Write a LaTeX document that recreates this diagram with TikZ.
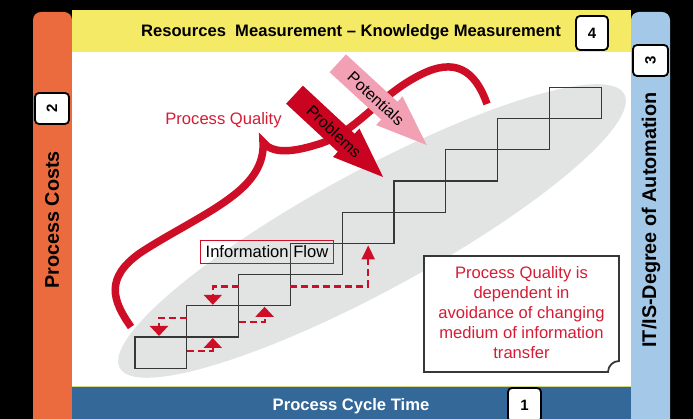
\documentclass[tikz,border=0pt]{standalone}
\usepackage{fontspec}
\setmainfont{Liberation Sans}
\usetikzlibrary{arrows.meta,calc}
\definecolor{barorange}{RGB}{236,107,62}
\definecolor{baryellow}{RGB}{245,234,101}
\definecolor{barlblue}{RGB}{164,200,232}
\definecolor{bardblue}{RGB}{52,104,152}
\definecolor{limeline}{RGB}{210,215,130}
\definecolor{ellgray}{RGB}{226,227,227}
\definecolor{stairgray}{RGB}{55,55,55}
\definecolor{qred}{RGB}{206,14,38}
\definecolor{txtred}{RGB}{214,28,52}
\definecolor{probred}{RGB}{202,4,32}
\definecolor{potpink}{RGB}{242,160,180}
\begin{document}
\begin{tikzpicture}[x=1pt,y=-1pt,
  numbox/.style={draw=black, fill=white, line width=1.8pt, rounded corners=4pt, inner sep=0pt, font=\fontsize{15}{18}\selectfont\bfseries},
  stair/.style={draw=stairgray, line width=1.3pt, minimum width=51.8pt, minimum height=31.2pt, inner sep=0pt, outer sep=0pt},
  flow/.style={draw=qred, line width=2.2pt, dash pattern=on 7pt off 4pt, -{Triangle[width=18pt,length=10pt]}},
  bigflow/.style={draw=qred, line width=2.2pt, dash pattern=on 7pt off 4pt, -{Triangle[width=13pt,length=14pt]}},
  qline/.style={draw=qred, line width=7.5pt, line join=miter},
  bartext/.style={font=\fontsize{16.6}{20}\selectfont\bfseries},
  sidetext/.style={font=\fontsize{19.8}{24}\selectfont\bfseries, rotate=90},
  plaintext/.style={font=\fontsize{16.6}{20}\selectfont},
  arrtext/.style={font=\fontsize{16}{19}\selectfont, text=black}
]
\useasboundingbox (0,0) rectangle (693,419);
\clip (0,0) rectangle (693,419);
\fill[black] (0,0) rectangle (693,419);
% frame
\fill[barorange, rounded corners=8pt] (33,440) rectangle (72,12);
\fill[barlblue, rounded corners=8pt] (631,440) rectangle (670,12);
\fill[baryellow] (72,10) rectangle (631,52);
\fill[white] (72,52) rectangle (631,386);
\fill[bardblue] (72,386) rectangle (631,440);
\draw[limeline, line width=1pt] (72,386.5) -- (631,386.5);
% labels of the frame
\node[bartext] (toplabel) at (351,32) {Resources~~Measurement – Knowledge Measurement};
\node[bartext, text=white] (botlabel) at (351,406) {Process Cycle Time};
\node[sidetext] (leftlabel) at (52,220) {Process Costs};
\node[sidetext] (rightlabel) at (651,220) {IT/IS-Degree of Automation};
\node[numbox, rotate=90, minimum width=31pt, minimum height=34pt] (n2) at (52,108.5) {2};
\node[numbox, rotate=90, minimum width=31pt, minimum height=35pt] (n3) at (650.5,60.5) {3};
\node[numbox, minimum width=32pt, minimum height=34pt] (n4) at (592,33) {4};
\node[numbox, minimum width=33pt, minimum height=34pt] (n1) at (524.5,405) {1};
% grey ellipse
\fill[ellgray, rotate around={28.5:(372,231)}] (372,231) ellipse [x radius=287pt, y radius=60pt];
% stairs
\foreach \i in {0,...,8}
  \node[stair] (b\i) at ({160.9+51.8*\i},{352.6-31.2*\i}) {};
% information flow
\node[draw=qred, line width=1.2pt, minimum width=133pt, minimum height=23pt, inner sep=0pt, plaintext] (info) at (267,252) {Information Flow};
\draw[flow] ($(b1.north west)+(0,12)$) -| ($(b0.north west)+(24,-1)$);
\draw[flow] ($(b0.south east)+(0,-17)$) -| ($(b1.south west)+(26,1)$);
\draw[flow] ($(b2.north west)+(0,12)$) -| ($(b1.north west)+(26,-1)$);
\draw[flow] ($(b1.south east)+(0,-15)$) -| ($(b2.south west)+(26,1)$);
\draw[bigflow] ($(b2.north east)+(0,12)$) -| ($(b4.south west)+(26,2)$);
% process quality curve
\node[plaintext, text=txtred] (pq) at (223.5,120) {Process Quality};
\draw[qline] (131,327) .. controls (112,300) and (105,278) .. (140,253)
  .. controls (175,230) and (215,212) .. (240,190)
  .. controls (258,174) and (264,158) .. (263,142)
  .. controls (272,154) and (292,153) .. (322,143)
  .. controls (358,130) and (380,95) .. (420,75)
  .. controls (455,57) and (475,70) .. (487,104);
% problems arrow
\begin{scope}[shift={(294.5,94.7)}, rotate=-42.9]
  \fill[probred] (0,-12.3) -- (70.6,-12.3) -- (70.6,-19.4) -- (120.9,0) -- (70.6,19.4) -- (70.6,12.3) -- (0,12.3) -- cycle;
  \node[arrtext, rotate=-42.9] (prob) at (54,0) {Problems};
\end{scope}
% potentials arrow
\begin{scope}[shift={(337.8,63.3)}, rotate=-42.6]
  \fill[potpink] (0,-12.1) -- (70,-12.1) -- (70,-19.5) -- (120.7,0) -- (70,19.5) -- (70,12.1) -- (0,12.1) -- cycle;
  \node[arrtext, rotate=-42.6] (pot) at (52,0) {Potentials};
\end{scope}
% note box
\draw[fill=white, draw=stairgray, line width=1.8pt] (424,256) -- (619,256) -- (619,361)
  .. controls (613,361) and (608,366) .. (608,372) -- (424,372) -- cycle;
\node[plaintext, text=txtred, align=center] (note) at (521.5,313)
  {Process Quality is\\dependent in\\avoidance of changing\\medium of information\\transfer};
\end{tikzpicture}
\end{document}
